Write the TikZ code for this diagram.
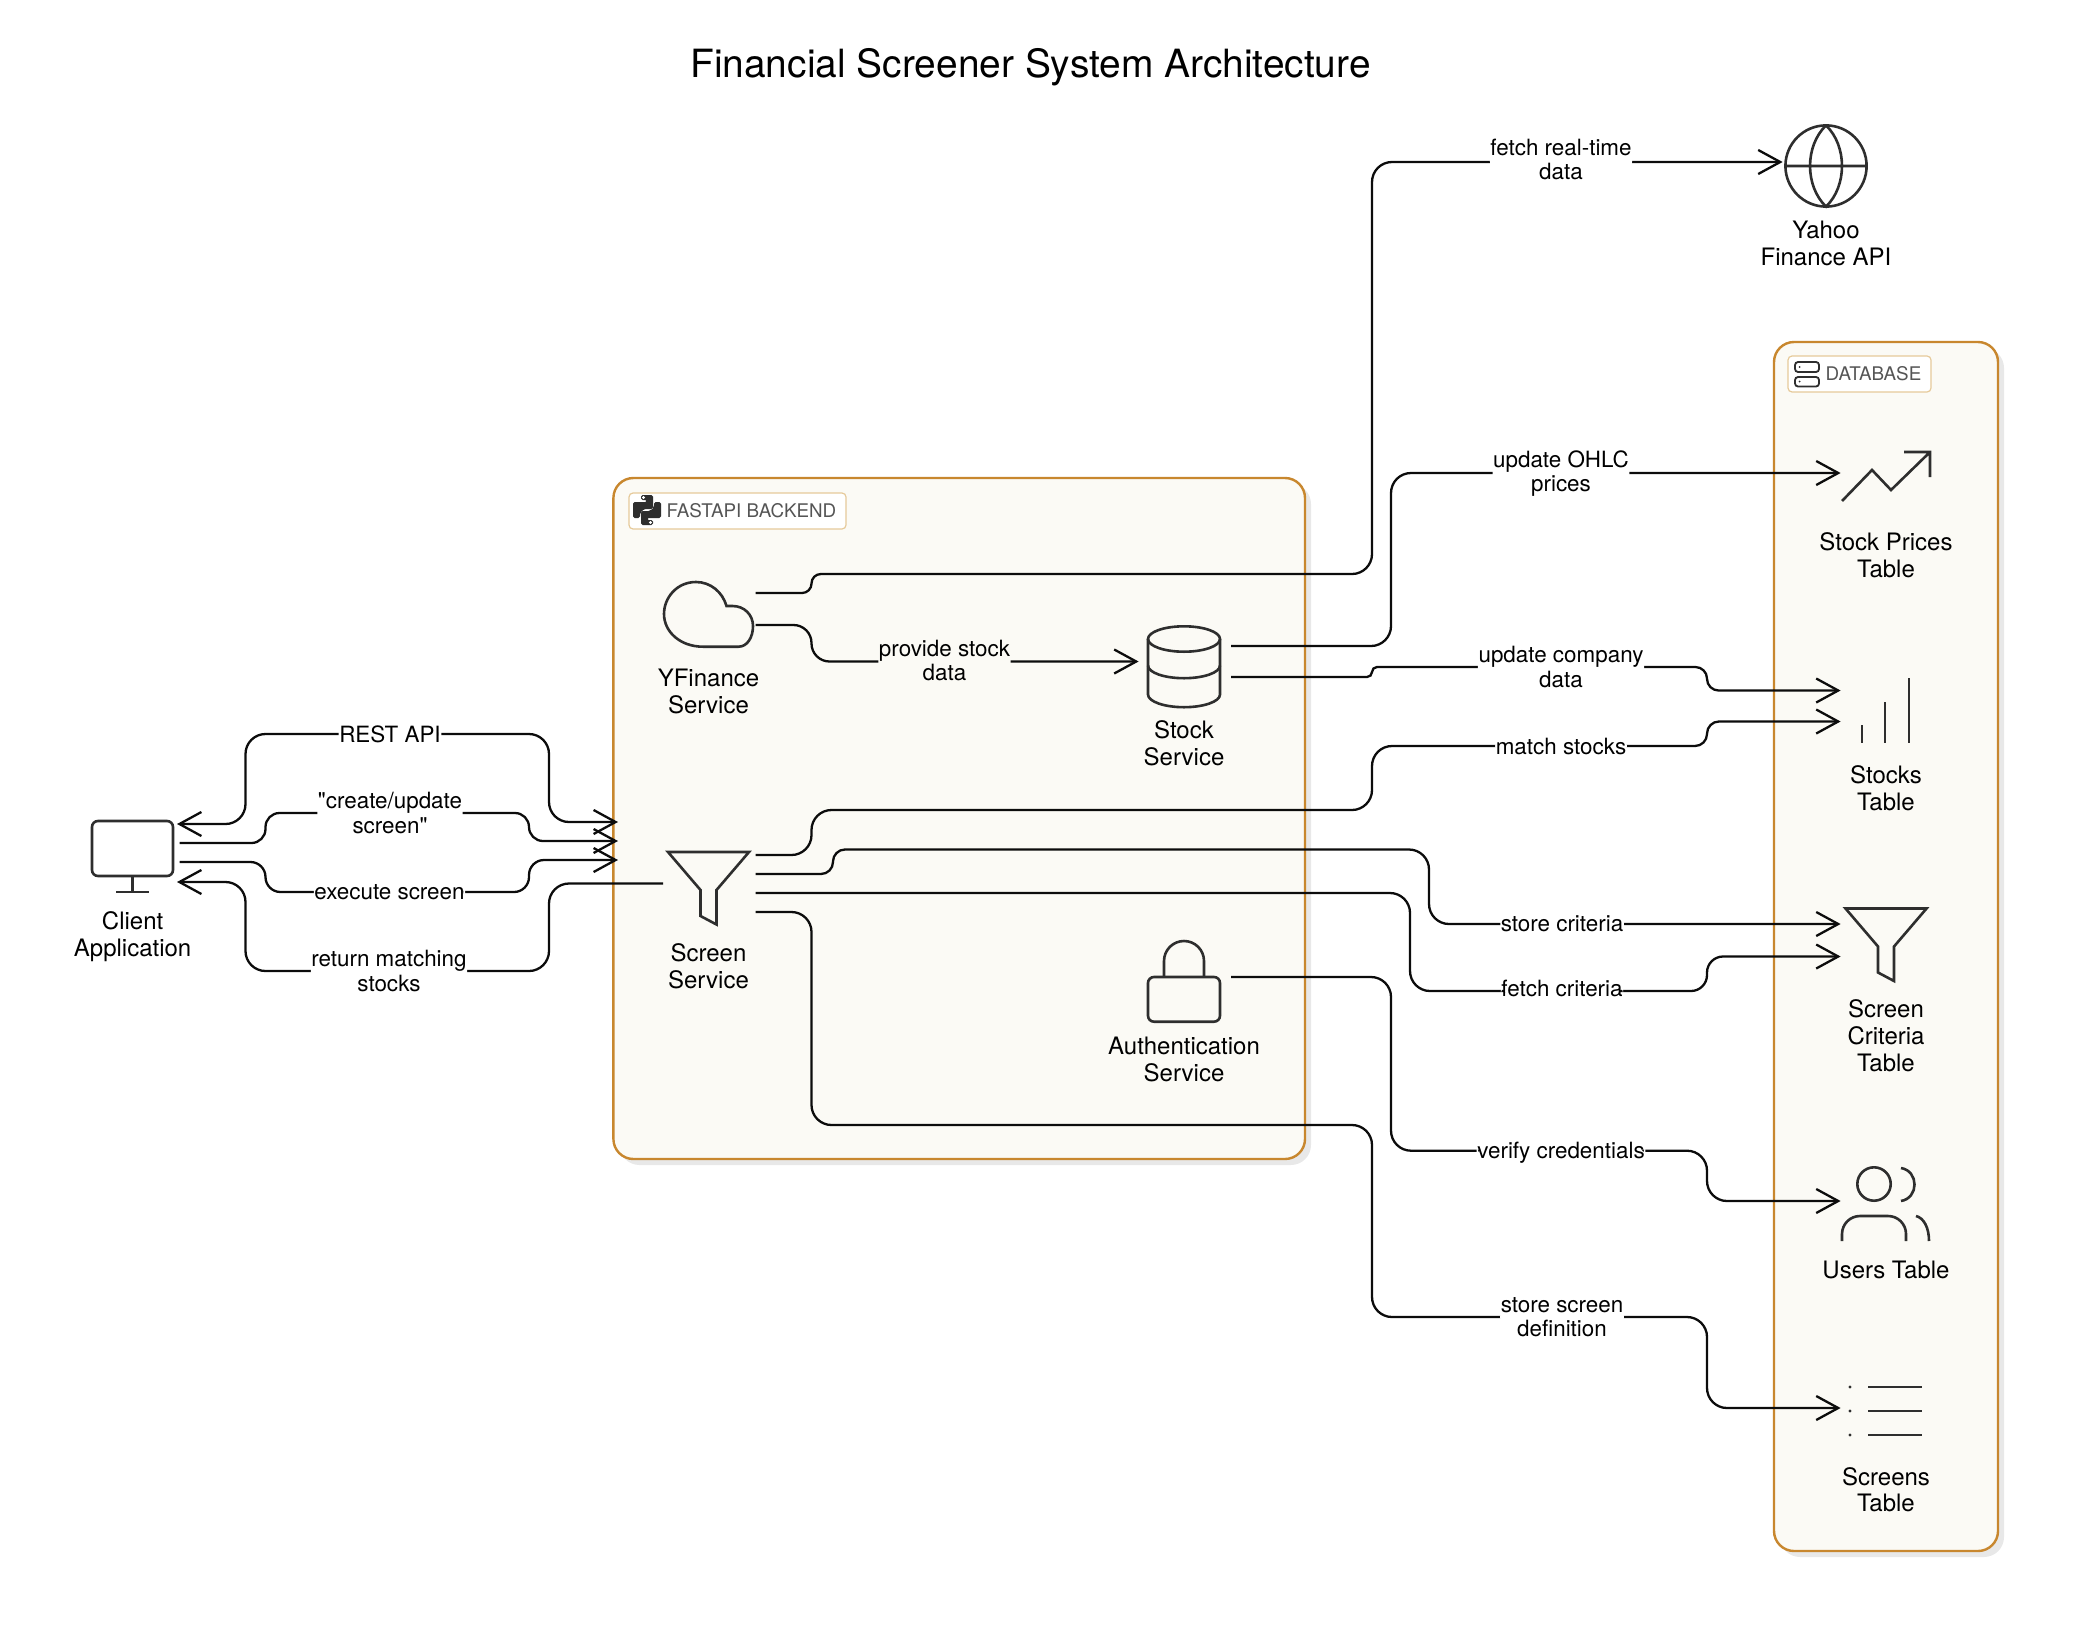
\documentclass[tikz,border=0pt]{standalone}
\usepackage{fontspec}
\setmainfont[Ligatures=TeXOff]{TeX Gyre Heros}
\usetikzlibrary{arrows.meta,shadows}
\definecolor{boxedge}{HTML}{C8872E}
\definecolor{boxfill}{HTML}{FBFAF5}
\definecolor{tagedge}{HTML}{E6CA9A}
\definecolor{boxshade}{HTML}{E8E8E8}
\definecolor{tagtext}{HTML}{555555}
\definecolor{iconink}{HTML}{2E2E2E}
\definecolor{wireink}{HTML}{0C0C0C}
\begin{document}
\begin{tikzpicture}[x=0.5pt,y=-0.5pt,node distance=41.3pt,
	>={Straight Barb[length=11pt,width=12pt,line width=1.15pt]},
	group/.style={draw=boxedge,fill=boxfill,line width=1.2pt,rounded corners=10pt,inner sep=0pt,outer sep=0pt,
		general shadow={fill=boxshade,shadow xshift=3pt,shadow yshift=-3pt}},
	tag/.style={draw=tagedge,fill=white,line width=0.6pt,rounded corners=2pt,text=tagtext,inner sep=0pt,
		minimum height=18pt,font=\fontsize{9.4}{11}\selectfont},
	icon/.style={minimum size=47pt,inner sep=0pt,outer sep=0pt},
	caption/.style={align=center,inner sep=0pt,text=black,font=\fontsize{12}{13.4}\selectfont},
	iconline/.style={draw=iconink,line width=1.3pt,line join=miter},
	flow/.style={draw=wireink,line width=1.15pt,rounded corners=10pt,shorten >=-0.8pt},
	edgelabel/.style={fill=white,align=center,inner sep=0.3pt,text=black,font=\fontsize{11.2}{12.25}\selectfont}]

  \useasboundingbox (0,0) rectangle (2097,1643);

  \node [inner sep=0pt,font=\fontsize{19.45}{23}\selectfont] (title) at (1030.5,67) {Financial Screener System Architecture};

  \node [group,minimum width=345.8pt,minimum height=340.5pt] (backend) at (959.2,818.5) {};
  \node [group,minimum width=112pt,minimum height=604.5pt] (database) at (1886,946.5) {};
  \node [tag,minimum width=108.5pt] (fastapitag) at (737.5,511) {\hspace*{14pt}FASTAPI BACKEND};
  \node [tag,minimum width=71.5pt] (databasetag) at (1859.5,374) {\hspace*{14pt}DATABASE};

  \node [icon] (client) at (132.6,853) {};
  \node [icon] (yfinance) at (708.5,609) {};
  \node [icon] (stock) at (1184,661.5) {};
  \node [icon] (screen) at (708.5,883.5) {};
  \node [icon] (auth) at (1184,977) {};
  \node [icon] (yahoo) at (1826,162) {};
  \node [icon] (prices) at (1886,473) {};
  \node [icon] (stocks) at (1886,706) {};
  \node [icon] (criteria) at (1886,940) {};
  \node [icon] (users) at (1886,1201) {};
  \node [icon] (screens) at (1886,1408) {};

  \node [below of=client,caption,node distance=41.8pt] (clienttext) {Client\\Application};
  \node [below of=yfinance,caption] (yfinancetext) {YFinance\\Service};
  \node [below of=stock,caption,node distance=40.8pt] (stocktext) {Stock\\Service};
  \node [below of=screen,caption] (screentext) {Screen\\Service};
  \node [below of=auth,caption] (authtext) {Authentication\\Service};
  \node [below of=yahoo,caption,node distance=40.8pt] (yahootext) {Yahoo\\Finance API};
  \node [below of=prices,caption] (pricestext) {Stock Prices\\Table};
  \node [below of=stocks,caption] (stockstext) {Stocks\\Table};
  \node [below of=criteria,caption,node distance=48pt] (criteriatext) {Screen\\Criteria\\Table};
  \node [below of=users,caption,node distance=34.3pt] (userstext) {Users Table};
  \node [below of=screens,caption,node distance=40.8pt] (screenstext) {Screens\\Table};

  % tag icons
  \fill [iconink,rounded corners=0.8pt,shift={(fastapitag)}] (-96.5,-16) -- (-84.5,-16) -- (-84.5,-2) -- (-93.5,-2) -- (-97.5,2) -- (-97.5,7)
	-- (-104.5,7) -- (-104.5,-9) -- (-90.5,-9) -- (-90.5,-11) -- (-96.5,-11) -- cycle;
  \fill [iconink,rounded corners=0.8pt,shift={(fastapitag)}] (-84.5,14) -- (-96.5,14) -- (-96.5,0) -- (-87.5,0) -- (-83.5,-4) -- (-83.5,-9)
	-- (-76.5,-9) -- (-76.5,7) -- (-90.5,7) -- (-90.5,9) -- (-84.5,9) -- cycle;
  \fill [white,shift={(fastapitag)}] (-94,-13.5) circle[radius=0.8pt] (-87,11.5) circle[radius=0.8pt];
  \draw [iconink,line width=0.9pt,rounded corners=1.5pt,shift={(databasetag)}] (-64.5,-12) rectangle (-40.5,-2) (-64.5,3) rectangle (-40.5,12.5);
  \fill [iconink,shift={(databasetag)}] (-60,-7) circle[radius=0.5pt] (-60,7.5) circle[radius=0.5pt];

  % service and table icons
  \draw [iconline,shift={(client)},rounded corners=3pt] (-40.6,-32) rectangle (40.4,23);
  \draw [iconline,shift={(client)}] (0,23) -- (0,39) (-16.5,39) -- (16.5,39);
  \draw [iconline,shift={(yfinance)},yshift=-0.5pt] (-5.5,36.7) -- (30,36.7) .. controls (39,36.7) and (44.5,27) .. (44.5,16)
	.. controls (44.5,5) and (36,-4) .. (24,-4) -- (18,-4) .. controls (14,-18) and (2,-28) .. (-12.5,-28)
	.. controls (-32,-28) and (-44.5,-12) .. (-44.5,4) .. controls (-44.5,22) and (-28,36.7) .. (-5.5,36.7) -- cycle;
  \draw [iconline,shift={(stock)},yshift=-0.5pt] (0,-23.5) circle[x radius=18pt,y radius=6.35pt];
  \draw [iconline,shift={(stock)},yshift=-0.5pt] (-36,-23.5) -- (-36,32) arc[start angle=180,end angle=360,x radius=18pt,y radius=6.35pt] -- (36,-23.5);
  \draw [iconline,shift={(stock)},yshift=-0.5pt] (-36,3) arc[start angle=180,end angle=360,x radius=18pt,y radius=6.35pt];
  \foreach \n in {screen,criteria}{
	  \draw [iconline,shift={(\n)},yshift=-0.5pt] (-40.5,-32.5) -- (40.5,-32.5) -- (8,5.5) -- (8,40) -- (-8,31.5) -- (-8,5.5) -- cycle;
  }
  \draw [iconline,shift={(auth)},yshift=-0.5pt,rounded corners=3pt] (-36,-1) rectangle (36,43.7);
  \draw [iconline,shift={(auth)},yshift=-0.5pt] (-20,-1) -- (-20,-17) arc[start angle=180,end angle=0,radius=10pt] -- (20,-1);
  \draw [iconline,shift={(yahoo)},yshift=-0.5pt] (0,3) circle[radius=20.3pt] (-40.6,3) -- (40.6,3)
	(0,-37.6) .. controls (-21.3,-17) and (-21.3,23) .. (0,43.6) .. controls (21.3,23) and (21.3,-17) .. (0,-37.6);
  \draw [iconline,shift={(prices)}] (-44,28) -- (-14,-3) -- (5,17) -- (44,-21) (18,-21) -- (44,-21) -- (44,4);
  \draw [iconline,shift={(stocks)}] (-24,19) -- (-24,37) (-1,-4) -- (-1,37) (23,-28) -- (23,37);
  \draw [iconline,shift={(users)}] (-12,-17) circle[radius=8.35pt] (15,-33) .. controls (33,-30) and (33,-3) .. (15,0)
	(30,15) .. controls (38,17) and (43,27) .. (43,40);
  \draw [iconline,shift={(users)},rounded corners=9pt] (-44,40) -- (-44,15) -- (20,15) -- (20,40);
  \draw [iconline,shift={(screens)}] (-18,-21) -- (36,-21) (-18,3) -- (36,3) (-18,27) -- (36,27);
  \fill [iconink,shift={(screens)}] (-36,-21) circle[radius=0.8pt] (-36,3) circle[radius=0.8pt] (-36,27) circle[radius=0.8pt];

  % client to backend
  \draw [flow,<->,shorten <=-1.3pt] ([shift={(0,-29)}]client.east) -- (245.5,824) -- (245.5,734) -- (390,734) node[edgelabel] (restlabel) {REST API} -- (549,734) -- (549,822) -- ([shift={(3,3.5)}]backend.west);
  \draw [flow,->,rounded corners=7pt] ([shift={(0,-10)}]client.east) -- (265.5,843) -- (265.5,813) -- (390,813) node[edgelabel] (createlabel) {"create/update\\screen"} -- (529,813) -- (529,841) -- ([shift={(3,22.5)}]backend.west);
  \draw [flow,->,rounded corners=7.5pt] ([shift={(0,9)}]client.east) -- (265.5,862) -- (265.5,892) -- (389.5,892) node[edgelabel] (executelabel) {execute screen} -- (529,892) -- (529,860) -- ([shift={(3,41.5)}]backend.west);
  \draw [flow,->,shorten >=-1.3pt] ([shift={(1.5,0)}]screen.west) -- (549,883.5) -- (549,971) -- (389,971) node[edgelabel] (returnlabel) {return matching\\stocks} -- (245.5,971) -- (245.5,882) -- ([shift={(0,29)}]client.east);

  % yfinance and stock service
  \draw [flow,->] ([shift={(0,-16)}]yfinance.east) [rounded corners=4.7pt] -- (811.5,593) -- (811.5,574) [rounded corners=10pt] -- (1372,574) -- (1372,162) -- (1561,162) node[edgelabel,yshift=1.3pt] (fetchlabel) {fetch real-time\\data} -- ([shift={(2,0)}]yahoo.west);
  \draw [flow,->,rounded corners=9pt] ([shift={(0,16)}]yfinance.east) -- (811.5,625) -- (811.5,661.5) -- (944.5,661.5) node[edgelabel,fill=boxfill,yshift=0.5pt] (providelabel) {provide stock\\data} -- (stock.west);
  \draw [flow,->] ([shift={(0,-15.5)}]stock.east) -- (1391,646) -- (1391,473) -- (1561,473) node[edgelabel,yshift=-0.4pt] (ohlclabel) {update OHLC\\prices} -- (prices.west);
  \draw [flow,->] ([shift={(0,15.5)}]stock.east) [rounded corners=2.5pt] -- (1372,677) -- (1372,667) [rounded corners=5.8pt] -- (1561,667) node[edgelabel] (companylabel) {update company\\data} -- (1707,667) -- (1707,690.5) -- ([shift={(0,-15.5)}]stocks.west);

  % screen service
  \draw [flow,->] ([shift={(0,-28.5)}]screen.east) -- (811.5,855) -- (811.5,810) -- (1372,810) -- (1372,746) [rounded corners=6pt] -- (1561,746) node[edgelabel] (matchlabel) {match stocks} -- (1707,746) -- (1707,721.5) -- ([shift={(0,15.5)}]stocks.west);
  \draw [flow,->] ([shift={(0,-9.5)}]screen.east) [rounded corners=6pt] -- (833,874) -- (833,849.5) [rounded corners=10pt] -- (1429,849.5) -- (1429,924) -- (1562,924) node[edgelabel] (storelabel) {store criteria} -- ([shift={(0,-16)}]criteria.west);
  \draw [flow,->] ([shift={(0,9.5)}]screen.east) -- (1410,893) -- (1410,991) [rounded corners=8pt] -- (1562,991) node[edgelabel,yshift=1.5pt] (criterialabel) {fetch criteria} -- (1707,991) -- (1707,956.5) -- ([shift={(0,16.5)}]criteria.west);
  \draw [flow,->] ([shift={(0,28.5)}]screen.east) -- (811.5,912) -- (811.5,1125) -- (1372,1125) -- (1372,1317) -- (1562,1317) node[edgelabel] (definitionlabel) {store screen\\definition} -- (1707,1317) -- (1707,1408) -- (screens.west);

  % authentication
  \draw [flow,->] (auth.east) -- (1391,977) -- (1391,1150.7) -- (1561,1150.7) node[edgelabel,yshift=-0.8pt] (verifylabel) {verify credentials} -- (1707,1150.7) -- (1707,1201) -- (users.west);

\end{tikzpicture}
\end{document}
